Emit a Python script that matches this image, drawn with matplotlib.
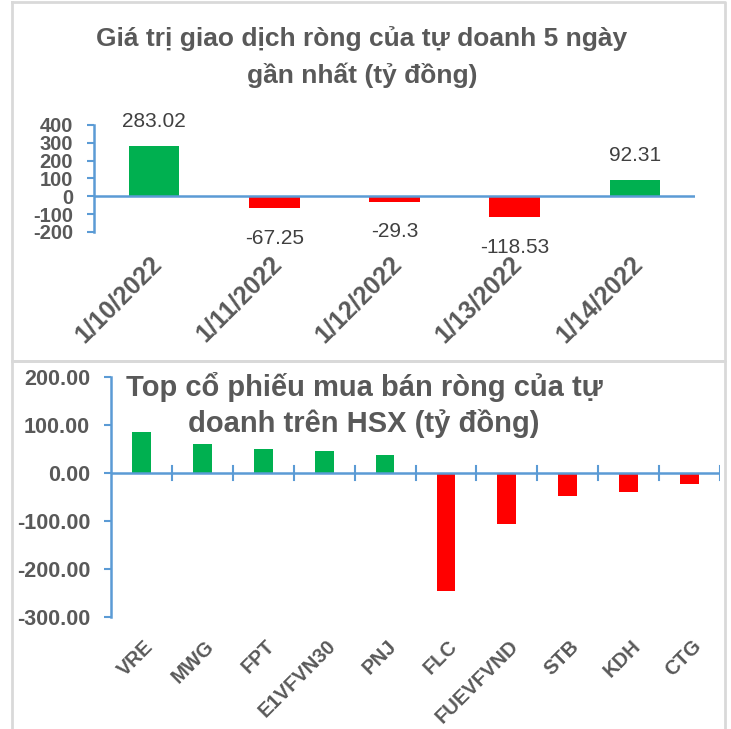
import matplotlib.pyplot as plt
import matplotlib.transforms as mtransforms
from matplotlib.lines import Line2D

plt.rcParams['font.family'] = ['Liberation Sans', 'DejaVu Sans']
plt.rcParams['axes.unicode_minus'] = False

# top chart data
dates = ['1/10/2022', '1/11/2022', '1/12/2022', '1/13/2022', '1/14/2022']
net_vals = [283.02, -67.25, -29.3, -118.53, 92.31]
net_labels = ['283.02', '-67.25', '-29.3', '-118.53', '92.31']

# bottom chart data
tickers = ['VRE', 'MWG', 'FPT', 'E1VFVN30', 'PNJ', 'FLC', 'FUEVFVND', 'STB', 'KDH', 'CTG']
ticker_vals = [84.8, 60.7, 50.3, 45.5, 36.6, -246.0, -105.5, -47.6, -39.3, -22.8]

GREEN = '#00B050'
RED = '#FF0000'
BLUE = '#5B9BD5'
GRAY = '#595959'
BORDER = '#D9D9D9'

W, H = 731, 729
fig = plt.figure(figsize=(W / 100, H / 100), dpi=100)

def px(x0, y0, x1, y1):
    return [x0 / W, 1 - y1 / H, (x1 - x0) / W, (y1 - y0) / H]

# panel borders
for y0, y1 in [(2, 361), (361, 740)]:
    fig.add_artist(Line2D([12 / W, 725 / W, 725 / W, 12 / W, 12 / W],
                          [1 - y0 / H, 1 - y0 / H, 1 - y1 / H, 1 - y1 / H, 1 - y0 / H],
                          color=BORDER, lw=2, transform=fig.transFigure))

# ---------- top chart ----------
ax1 = fig.add_axes(px(94, 125, 695, 232))
x = list(range(len(dates)))
cols = [GREEN if v >= 0 else RED for v in net_vals]
ax1.bar(x, net_vals, width=0.42, color=cols, zorder=2)
ax1.set_xlim(-0.5, 4.5)
ax1.set_ylim(-200, 400)
ax1.set_yticks([400, 300, 200, 100, 0, -100, -200])
ax1.axhline(0, color=BLUE, lw=1.8, zorder=3)
for s in ['top', 'right', 'bottom']:
    ax1.spines[s].set_visible(False)
ax1.spines['left'].set_color(BLUE)
ax1.spines['left'].set_linewidth(1.8)
ax1.tick_params(axis='y', color=BLUE, width=1.5, length=5, labelsize=14.5, labelcolor=GRAY, pad=10)
for t in ax1.get_yticklabels():
    t.set_fontweight('bold')
ax1.set_xticks([])
for i, (v, lab) in enumerate(zip(net_vals, net_labels)):
    if v >= 0:
        ax1.annotate(lab, (i, v), xytext=(0, 11), textcoords='offset points',
                     ha='center', va='bottom', fontsize=15, color='#404040')
    else:
        ax1.annotate(lab, (i, v), xytext=(0, -15), textcoords='offset points',
                     ha='center', va='top', fontsize=15, color='#404040')
tr1 = mtransforms.blended_transform_factory(ax1.transData, ax1.transAxes)
for i, d in enumerate(dates):
    ax1.text(i + 0.03, -0.26, d, transform=tr1, rotation=45, ha='right', va='center',
             fontsize=18, fontweight='bold', color=GRAY, rotation_mode='anchor')
fig.text(362 / W, 1 - 39 / H, 'Giá trị giao dịch ròng của tự doanh 5 ngày',
         ha='center', va='center', fontsize=19, fontweight='bold', color=GRAY)
fig.text(362 / W, 1 - 75 / H, 'gần nhất (tỷ đồng)',
         ha='center', va='center', fontsize=19, fontweight='bold', color=GRAY)

# ---------- bottom chart ----------
ax2 = fig.add_axes(px(111, 377, 720, 617))
x2 = list(range(len(tickers)))
cols2 = [GREEN if v >= 0 else RED for v in ticker_vals]
ax2.bar(x2, ticker_vals, width=0.31, color=cols2, zorder=2)
ax2.set_xlim(-0.5, 9.5)
ax2.set_ylim(-300, 200)
ax2.set_yticks([200, 100, 0, -100, -200, -300])
ax2.set_yticklabels(['%.2f' % v for v in [200, 100, 0, -100, -200, -300]])
ax2.axhline(0, color=BLUE, lw=1.8, zorder=3)
for s in ['top', 'right', 'bottom']:
    ax2.spines[s].set_visible(False)
ax2.spines['left'].set_color(BLUE)
ax2.spines['left'].set_linewidth(1.8)
ax2.tick_params(axis='y', color=BLUE, width=1.5, length=5, labelsize=15.5, labelcolor=GRAY, pad=10)
for t in ax2.get_yticklabels():
    t.set_fontweight('bold')
ax2.set_xticks([])
for b in [i + 0.5 for i in range(10)]:
    ax2.plot([b, b], [-15, 15], color=BLUE, lw=1.5, zorder=3)
tr2 = mtransforms.blended_transform_factory(ax2.transData, ax2.transAxes)
for i, t in enumerate(tickers):
    ax2.text(i + 0.14, -0.11, t, transform=tr2, rotation=45, ha='right', va='center',
             fontsize=14.5, fontweight='bold', color=GRAY, rotation_mode='anchor')
fig.text(364 / W, 1 - 387 / H, 'Top cổ phiếu mua bán ròng của tự',
         ha='center', va='center', fontsize=21, fontweight='bold', color=GRAY)
fig.text(364 / W, 1 - 423 / H, 'doanh trên HSX (tỷ đồng)',
         ha='center', va='center', fontsize=21, fontweight='bold', color=GRAY)

fig.savefig('out.png', dpi=100)
